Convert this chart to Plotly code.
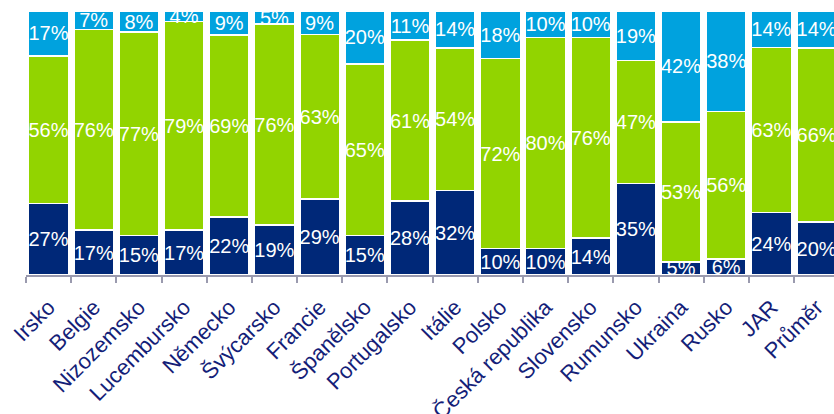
import plotly.graph_objects as go

categories = ["Irsko", "Belgie", "Nizozemsko", "Lucembursko", "Německo", "Švýcarsko",
              "Francie", "Španělsko", "Portugalsko", "Itálie", "Polsko", "Česká republika",
              "Slovensko", "Rumunsko", "Ukraina", "Rusko", "JAR", "Průměr"]
bottom_vals = [27, 17, 15, 17, 22, 19, 29, 15, 28, 32, 10, 10, 14, 35, 5, 6, 24, 20]
middle_vals = [56, 76, 77, 79, 69, 76, 63, 65, 61, 54, 72, 80, 76, 47, 53, 56, 63, 66]
top_vals = [17, 7, 8, 4, 9, 5, 9, 20, 11, 14, 18, 10, 10, 19, 42, 38, 14, 14]

series = [
    ("bottom", bottom_vals, "#002878"),
    ("middle", middle_vals, "#92d400"),
    ("top", top_vals, "#00a2de"),
]

FONT = "Liberation Sans, Arial, sans-serif"

fig = go.Figure()
for name, vals, color in series:
    fig.add_trace(go.Bar(
        x=categories, y=vals, name=name,
        marker=dict(color=color, line=dict(color="white", width=1.5)),
        text=[f"{v}%" for v in vals],
        texttemplate="%{text}",
        textposition="inside",
        insidetextanchor="middle",
        constraintext="none",
        textangle=0,
        insidetextfont=dict(family=FONT, size=20, color="white"),
        cliponaxis=True,
        hoverinfo="skip",
    ))

fig.update_layout(
    barmode="stack",
    barnorm="percent",
    bargap=0.12,
    width=834, height=414,
    margin=dict(l=26, r=0, t=11, b=139),
    paper_bgcolor="white",
    plot_bgcolor="white",
    showlegend=False,
    font=dict(family=FONT),
    xaxis=dict(
        type="category",
        range=[-0.5, 17.384],
        automargin=False,
        tickson="boundaries",
        ticks="outside",
        ticklen=6,
        tickcolor="#9a9aae",
        tickwidth=1.5,
        showline=True,
        linecolor="#9a9aae",
        linewidth=1.5,
        tickangle=-45,
        ticklabelstandoff=9,
        tickfont=dict(family=FONT, size=22, color="#141e78"),
        showgrid=False,
        fixedrange=True,
    ),
    yaxis=dict(
        range=[0, 100],
        visible=False,
        automargin=False,
        showgrid=False,
        fixedrange=True,
    ),
)

fig.write_html(
    "out.html",
    config={"displayModeBar": False},
    post_script="document.body.style.margin='0';document.body.style.overflow='hidden';",
)
